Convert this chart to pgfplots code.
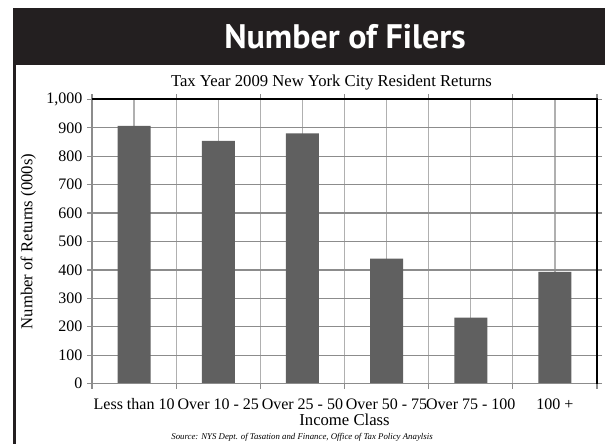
\documentclass[border=0pt]{standalone}
\usepackage{pgfplots}
\pgfplotsset{compat=1.18}
\usepackage{fontspec}
\setmainfont{Liberation Serif}
\newfontfamily\headfont{PT Sans}
\definecolor{barc}{HTML}{606060}
\definecolor{band}{HTML}{231F20}
\definecolor{hgrid}{HTML}{8C8C8C}
\definecolor{vgrid}{HTML}{B0B0B0}
\begin{document}
\begin{tikzpicture}
% bounding box 605x443 px, 1px = 0.75pt, origin top-left
\useasboundingbox (0,0) rectangle (453.75pt,-332.25pt);
\begin{scope}[x=0.75pt,y=-0.75pt]
\fill[band] (14,8) rectangle (606,65);
\draw[band,line width=1.9pt] (14.5,8) -- (14.5,444);
\node[text=white,font=\headfont\bfseries\fontsize{25.5}{30}\selectfont] at (345,37) {Number of Filers};
\node[font=\fontsize{12.5}{15}\selectfont] at (331.5,83) {Tax Year 2009 New York City Resident Returns};
\node[font=\itshape\fontsize{6.6}{8}\selectfont] at (302,437.5) {Source: NYS Dept. of Tasation and Finance, Office of Tax Policy Anaylsis};
\end{scope}
\begin{axis}[
  at={(69pt,-287.7pt)}, anchor=south west,
  width=378.75pt, height=213.2pt, scale only axis,
  xmin=-0.5, xmax=5.5, ymin=0, ymax=1000,
  ybar, bar width=24.75pt,
  axis line style={draw=none},
  xtick={0,1,2,3,4,5},
  xticklabels={Less than 10,Over 10 - 25,Over 25 - 50,Over 50 - 75,Over 75 - 100,100 +},
  minor xtick={-0.5,0.5,1.5,2.5,3.5,4.5,5.5},
  ytick={0,100,...,1000},
  tick align=outside,
  major tick length=3.75pt, minor tick length=3.75pt,
  xmajorgrids, xminorgrids, ymajorgrids,
  major x tick style={draw=none},
  tick style={color=hgrid, line width=0.9pt},
  minor x tick style={color=hgrid, line width=0.9pt},
  major x grid style={color=vgrid, line width=0.9pt},
  minor x grid style={color=vgrid, line width=0.9pt},
  major y grid style={color=hgrid, line width=0.9pt},
  /pgf/number format/assume math mode=true,
  /pgf/number format/1000 sep={,},
  ticklabel style={font=\fontsize{12}{14}\selectfont},
  x tick label style={yshift=-4pt},
  xlabel={Income Class},
  xlabel style={font=\fontsize{12.5}{15}\selectfont, yshift=3.5pt},
  ylabel={Number of Returns (000s)},
  ylabel style={font=\fontsize{12.5}{15}\selectfont, yshift=1pt},
  clip=false,
]
\addplot[fill=barc, draw=none] coordinates {(0,907) (1,854) (2,880) (3,440) (4,232) (5,393)};
\draw[hgrid, line width=0.9pt] (rel axis cs:0,1) -- (rel axis cs:0,0) -- (rel axis cs:1,0);
\draw[black, line width=1.3pt] (rel axis cs:0,1) -- (rel axis cs:1,1) -- (rel axis cs:1,0);
\end{axis}
\end{tikzpicture}
\end{document}
